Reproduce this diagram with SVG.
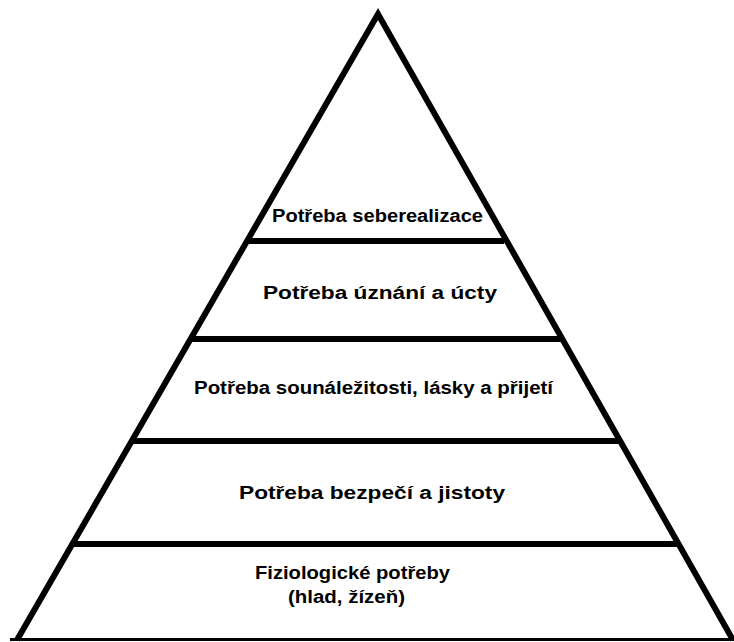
<svg xmlns="http://www.w3.org/2000/svg" width="734" height="642" viewBox="0 0 734 642">
<style>
.edge{stroke:#000;stroke-width:6;fill:none;stroke-linejoin:miter}
.bar{stroke:#000;stroke-width:6}
.lbl{font-family:"Liberation Sans",Arial,sans-serif;font-weight:bold;font-size:18px;fill:#000;text-anchor:middle}
</style>
<rect width="734" height="642" fill="#fff"/>
<g id="connectors">
<polyline class="edge" points="17,640 378,14 733,640"/>
<rect x="10" y="638" width="724" height="3" fill="#000"/>
<line class="bar" x1="248" y1="241" x2="504" y2="241"/>
<line class="bar" x1="191" y1="339" x2="561" y2="339"/>
<line class="bar" x1="132" y1="441" x2="621" y2="441"/>
<line class="bar" x1="73" y1="544" x2="679" y2="544"/>
</g>
<g id="n1"><text class="lbl" x="377.5" y="222" textLength="211" lengthAdjust="spacingAndGlyphs">Potřeba seberealizace</text></g>
<g id="n2"><text class="lbl" x="380" y="299" textLength="234" lengthAdjust="spacingAndGlyphs">Potřeba úznání a úcty</text></g>
<g id="n3"><text class="lbl" x="373.5" y="394" textLength="359" lengthAdjust="spacingAndGlyphs">Potřeba sounáležitosti, lásky a přijetí</text></g>
<g id="n4"><text class="lbl" x="372" y="499" textLength="266" lengthAdjust="spacingAndGlyphs">Potřeba bezpečí a jistoty</text></g>
<g id="n5"><text class="lbl" x="352.5" y="579" textLength="195" lengthAdjust="spacingAndGlyphs">Fiziologické potřeby</text>
<text class="lbl" x="346.5" y="603" textLength="117" lengthAdjust="spacingAndGlyphs">(hlad, žízeň)</text></g>
</svg>
